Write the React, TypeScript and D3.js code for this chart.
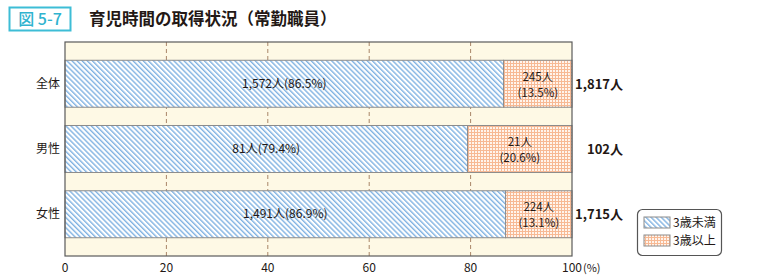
import React from "react";
import * as d3 from "d3";

const categories = ["全体", "男性", "女性"];
const under3Count = [1572, 81, 1491];
const under3Pct = [86.5, 79.4, 86.9];
const over3Count = [245, 21, 224];
const over3Pct = [13.5, 20.6, 13.1];
const totals = [1817, 102, 1715];
const xTicks = [0, 20, 40, 60, 80, 100];
const legendLabels = ["3歳未満", "3歳以上"];

const W = 760;
const H = 278;
const FONT = "'Noto Sans CJK JP', 'Noto Sans', sans-serif";
const TEXT = "#231815";

export default function App() {
  const x = d3.scaleLinear().domain([0, 100]).range([65, 572]);
  const y = d3.scaleBand<string>().domain(categories).range([42, 256]).paddingInner(0.28).paddingOuter(0.28);
  const fmt = d3.format(",");
  const bw = y.bandwidth();

  return (
    <svg width={W} height={H} style={{ position: "absolute", left: 0, top: 0 }} fontFamily={FONT}>
      <defs>
        <pattern id="hatch" width={3.6} height={3.6} patternUnits="userSpaceOnUse" patternTransform="rotate(-45)">
          <rect width={3.6} height={3.6} fill="#ffffff" />
          <rect x={0} y={0} width={1.4} height={3.6} fill="#80b2e2" />
        </pattern>
        <pattern id="dots" width={3} height={3} patternUnits="userSpaceOnUse">
          <rect width={3} height={3} fill="#fff4ec" />
          <rect x={0} y={0} width={1} height={3} fill="#f7b994" />
          <rect x={0} y={0} width={3} height={1} fill="#f7b994" />
        </pattern>
      </defs>
      <rect width={W} height={H} fill="#ffffff" />

      {/* Title */}
      <rect x={9.5} y={7.5} width={61} height={23} fill="#ffffff" stroke="#3dbdd6" strokeWidth={2} />
      <text x={40} y={25} textAnchor="middle" fill="#2fb3cf" fontSize={16} fontWeight={500}>
        図 5-7
      </text>
      <text x={89} y={25} fill={TEXT} fontSize={16.5} fontWeight={700}>
        育児時間の取得状況（常勤職員）
      </text>

      {/* Plot background */}
      <rect x={x(0)} y={42} width={x(100) - x(0)} height={214} fill="#fef9e5" />
      {xTicks.filter((t) => t > 0 && t < 100).map((t) => (
        <line key={t} x1={x(t)} x2={x(t)} y1={42} y2={256} stroke="#a98668" strokeWidth={1} strokeDasharray="4,3" />
      ))}

      {/* Bars */}
      {categories.map((c, i) => {
        const y0 = y(c)!;
        const xb = x(under3Pct[i]);
        const cy = y0 + bw / 2;
        return (
          <g key={c}>
            <rect x={x(0)} y={y0} width={xb - x(0)} height={bw} fill="url(#hatch)" stroke="#8c8c8c" strokeWidth={1} />
            <rect x={xb} y={y0} width={x(100) - xb} height={bw} fill="url(#dots)" stroke="#8c8c8c" strokeWidth={1} />
            <text x={(x(0) + xb) / 2} y={cy + 4} textAnchor="middle" fontSize={12} fill={TEXT}>
              {`${fmt(under3Count[i])}人(${under3Pct[i].toFixed(1)}%)`}
            </text>
            <text x={(xb + x(100)) / 2} y={cy - 3} textAnchor="middle" fontSize={11.5} fill={TEXT}>
              {`${fmt(over3Count[i])}人`}
            </text>
            <text x={(xb + x(100)) / 2} y={cy + 13} textAnchor="middle" fontSize={11.5} fill={TEXT}>
              {`(${over3Pct[i].toFixed(1)}%)`}
            </text>
            <text x={623} y={cy + 5} textAnchor="end" fontSize={13} fontWeight={700} fill={TEXT}>
              {`${fmt(totals[i])}人`}
            </text>
            <text x={60} y={cy + 4} textAnchor="end" fontSize={12} fill={TEXT}>
              {c}
            </text>
          </g>
        );
      })}

      {/* Frame */}
      <rect x={x(0)} y={42} width={x(100) - x(0)} height={214} fill="none" stroke="#5a5a5a" strokeWidth={1.2} />

      {/* X axis labels */}
      {xTicks.map((t) => (
        <text key={t} x={x(t)} y={272} textAnchor="middle" fontSize={12} fill={TEXT}>
          {t}
        </text>
      ))}
      <text x={x(100) + 11} y={272} fontSize={11} fill={TEXT}>
        (%)
      </text>

      {/* Legend */}
      <rect x={637.5} y={209.5} width={84} height={46} rx={5} fill="#ffffff" stroke="#555555" strokeWidth={1.2} />
      <rect x={644} y={217} width={26} height={11} fill="url(#hatch)" stroke="#8c8c8c" />
      <rect x={644} y={235} width={26} height={11} fill="url(#dots)" stroke="#8c8c8c" />
      <text x={673} y={227} fontSize={12} fill={TEXT}>
        {legendLabels[0]}
      </text>
      <text x={673} y={245} fontSize={12} fill={TEXT}>
        {legendLabels[1]}
      </text>
    </svg>
  );
}
